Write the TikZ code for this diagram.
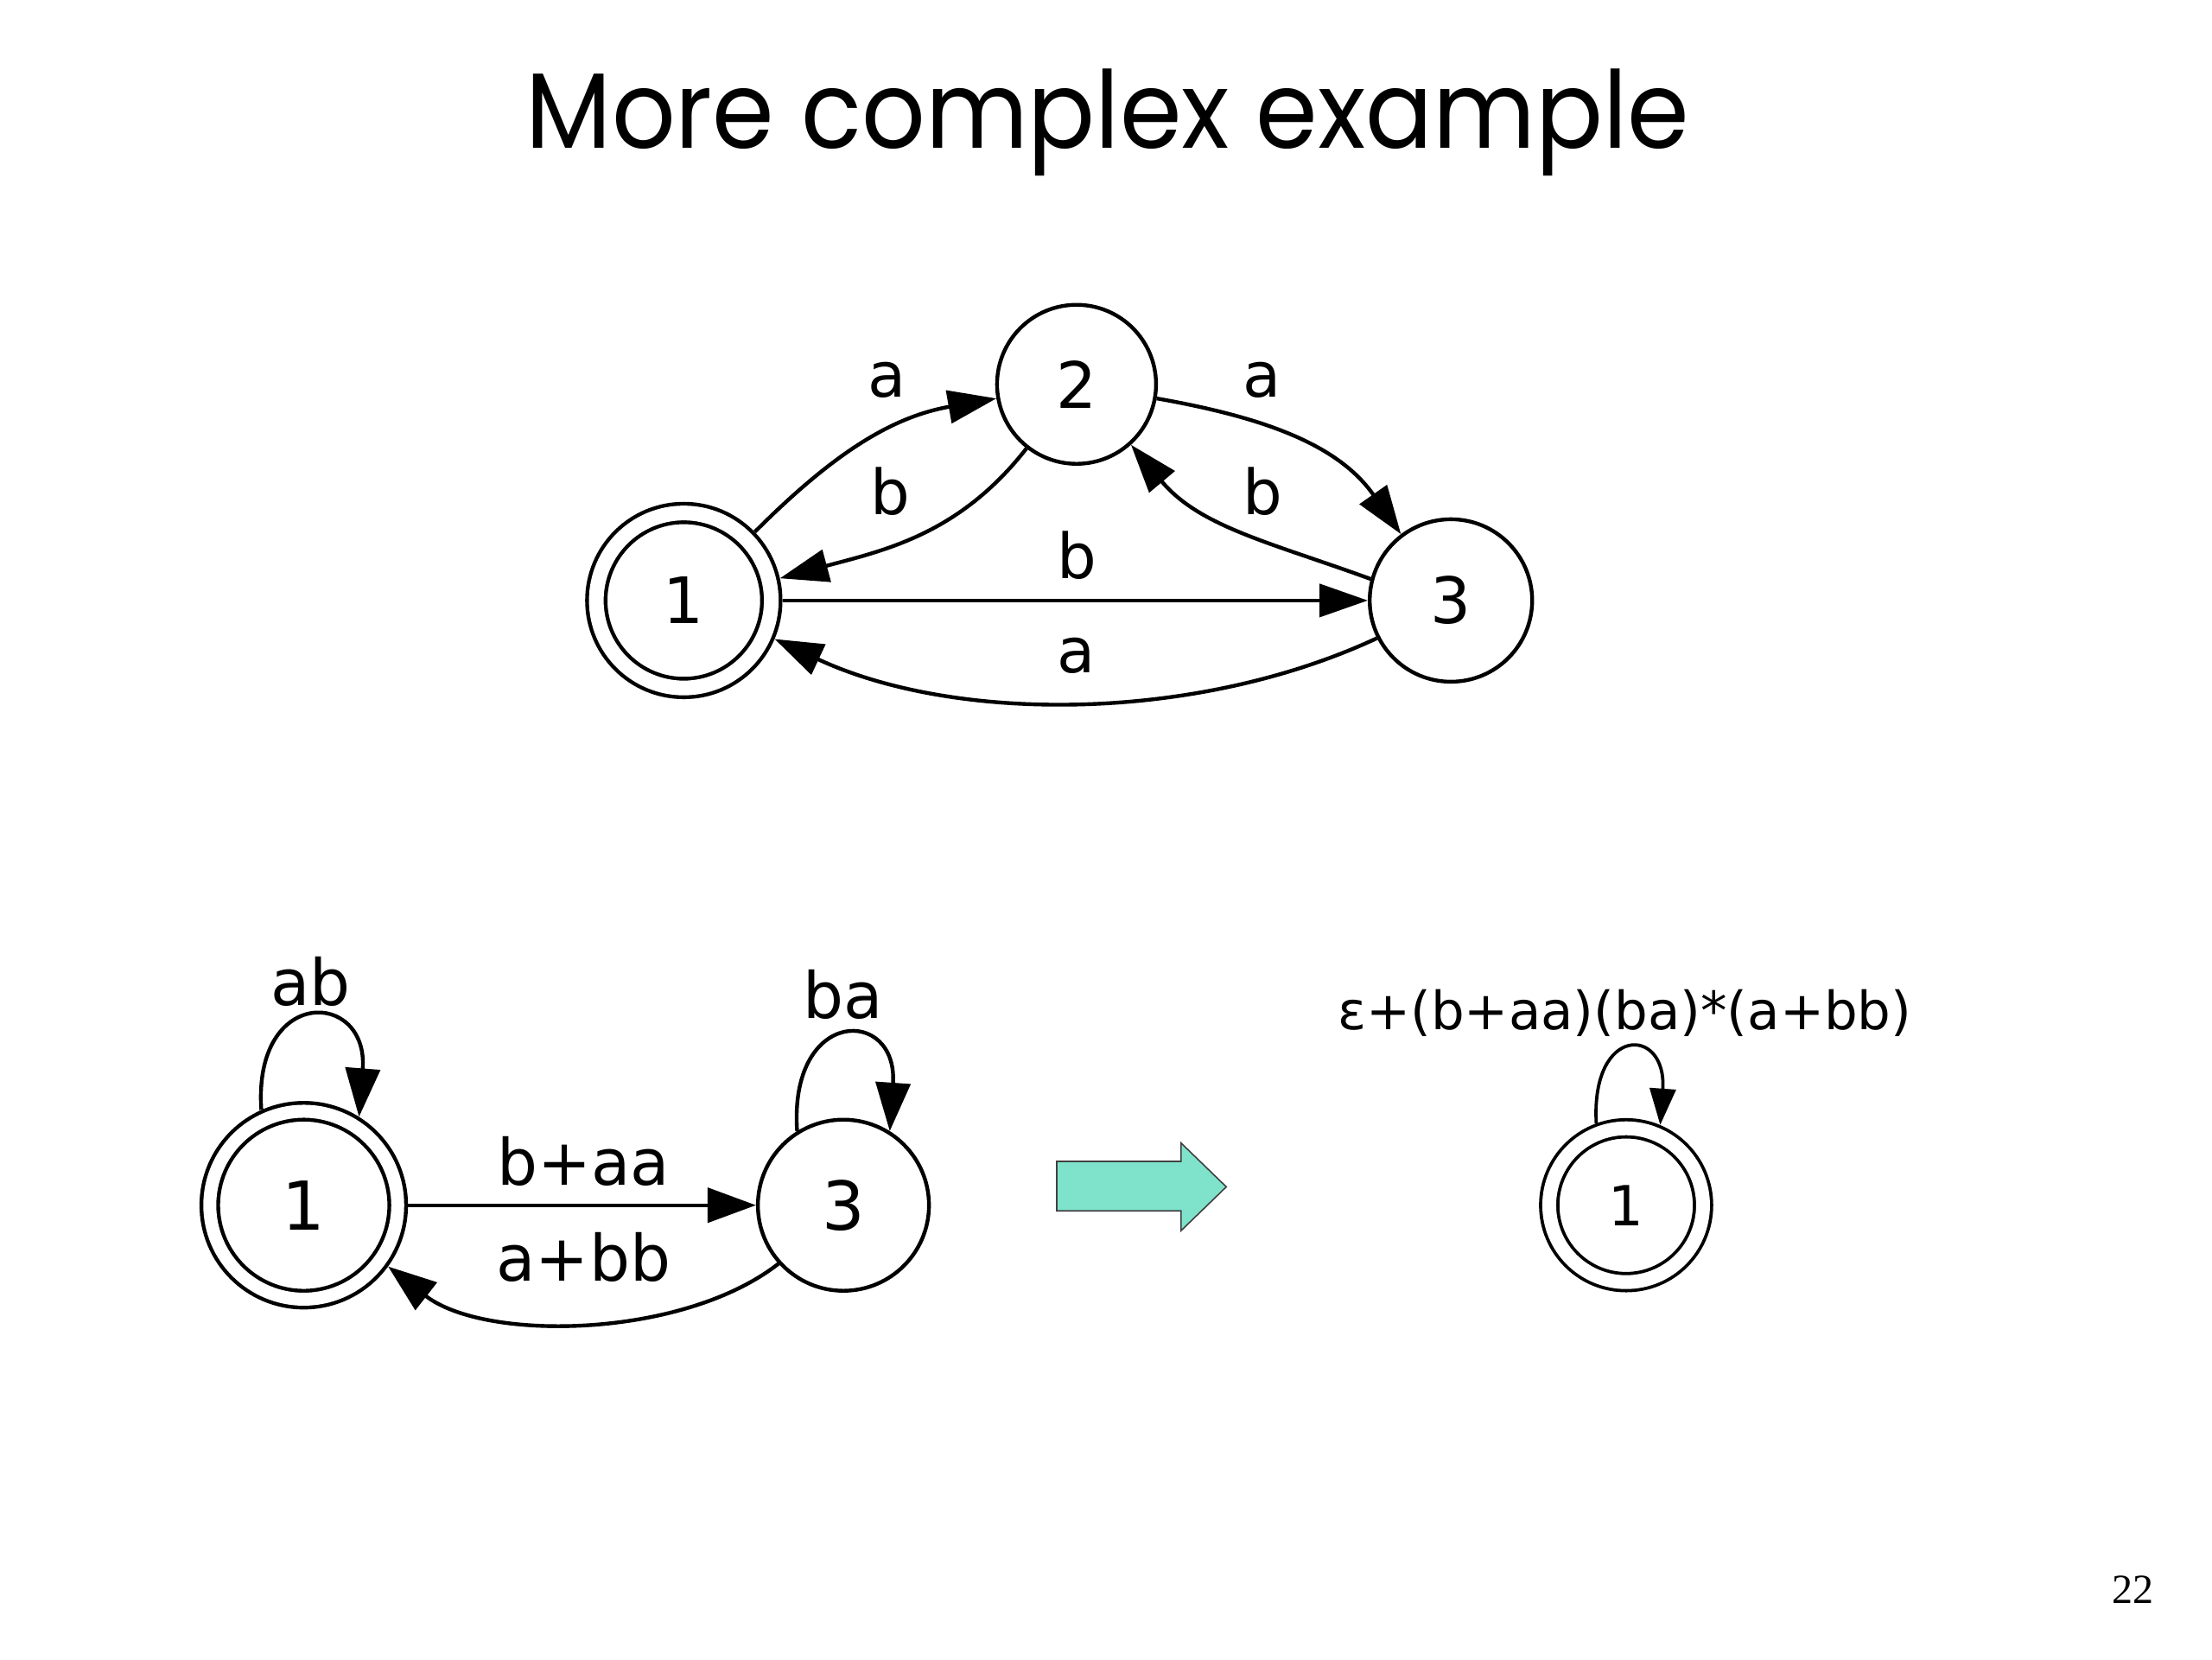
\documentclass[tikz,border=0pt]{standalone}
\usepackage{fontspec}
\setmainfont{DejaVu Sans}
\newfontfamily\titlefont{Poppins}
\newfontfamily\pagefont{Liberation Serif}
\usetikzlibrary{arrows.meta}
\definecolor{teal1}{RGB}{127,227,204}
\tikzset{
  stt/.style={circle, draw, line width=4.4pt, inner sep=0pt, font=\fontsize{74}{80}\selectfont},
  stb/.style={circle, draw, line width=4.4pt, inner sep=0pt, font=\fontsize{78}{84}\selectfont},
  lblt/.style={inner sep=0pt, font=\fontsize{72}{80}\selectfont},
  lblb/.style={inner sep=0pt, font=\fontsize{74}{80}\selectfont},
  edt/.style={line width=4.4pt, -{Triangle[length=56pt, width=38pt]}},
  edb/.style={line width=4.4pt, -{Triangle[length=56pt, width=40pt]}},
  edr/.style={line width=3.8pt, -{Triangle[length=42pt, width=30pt]}},
}
\begin{document}
\begin{tikzpicture}[x=1.635pt, y=-1.635pt]
\useasboundingbox (0,0) rectangle (1565.7,1174.3);
% title
\node[anchor=base, inner sep=0pt, xscale=0.93, font=\titlefont\fontsize{124}{130}\selectfont] (title) at (784,105) {More complex example};
% top graph
\node[stt, minimum size=202.5pt, double, double distance=17pt, outer sep=13pt] (t1) at (484,425) {1};
\node[stt, minimum size=184pt] (t2) at (762,272) {2};
\node[stt, minimum size=188pt] (t3) at (1027,425) {3};
\draw[edt] (t1.44) to[out=45, in=190] (t2.190);
\draw[edt] (t2.232) to[out=232, in=15] (t1.13);
\draw[edt] (t2.-10) to[out=-10, in=125] (t3.127);
\draw[edt] (t3.165) to[out=160, in=-50] (t2.-48);
\draw[edt] (t1.east) -- (t3.west);
\draw[edt] (t3.207) to[out=205, in=-25, looseness=0.85] (t1.-23);
\node[lblt] (la12) at (628,269) {a};
\node[lblt] (la23) at (893,269) {a};
\node[lblt] (lb21) at (630,348) {b};
\node[lblt] (lb32) at (894,348) {b};
\node[lblt] (lb13) at (762,393) {b};
\node[lblt] (la31) at (762,464) {a};
% bottom graph
\node[stb, minimum size=217.5pt, double, double distance=15pt, outer sep=12pt] (b1) at (215,853) {1};
\node[stb, minimum size=198pt] (b3) at (597,853) {3};
\draw[edb] (b1.114) .. controls +(-6,-88) and +(7,-90) .. (b1.58);
\draw[edb] (b3.122) .. controls +(-6,-88) and +(6,-88) .. (b3.58);
\draw[edb] (b1.east) -- (b3.west);
\draw[edb] (b3.222) to[out=218, in=-38, looseness=0.8] (b1.-36);
\node[lblb] (lab) at (220,695) {ab};
\node[lblb] (lba) at (597,704) {ba};
\node[lblb] (lbaa) at (413,822) {b+aa};
\node[lblb] (labb) at (413,890) {a+bb};
% big arrow
\draw[fill=teal1, draw=black!75, line width=1.6pt] (748,822) -- (836,822) -- (836,809) -- (868,840) -- (836,871) -- (836,857) -- (748,857) -- cycle;
% right graph
\node[circle, draw, line width=3.8pt, inner sep=0pt, font=\fontsize{64}{70}\selectfont, minimum size=178pt, double, double distance=16pt, outer sep=12pt] (r1) at (1151,853) {1};
\draw[edr] (r1.110) .. controls +(-4,-70) and +(5,-70) .. (r1.67);
\node[inner sep=0pt, font=\fontsize{61}{70}\selectfont] (lr) at (1150,717) {ε+(b+aa)(ba)*(a+bb)};
% page number
\node[inner sep=0pt, font=\pagefont\fontsize{48}{52}\selectfont] (pg) at (1510,1125) {22};
\end{tikzpicture}
\end{document}
